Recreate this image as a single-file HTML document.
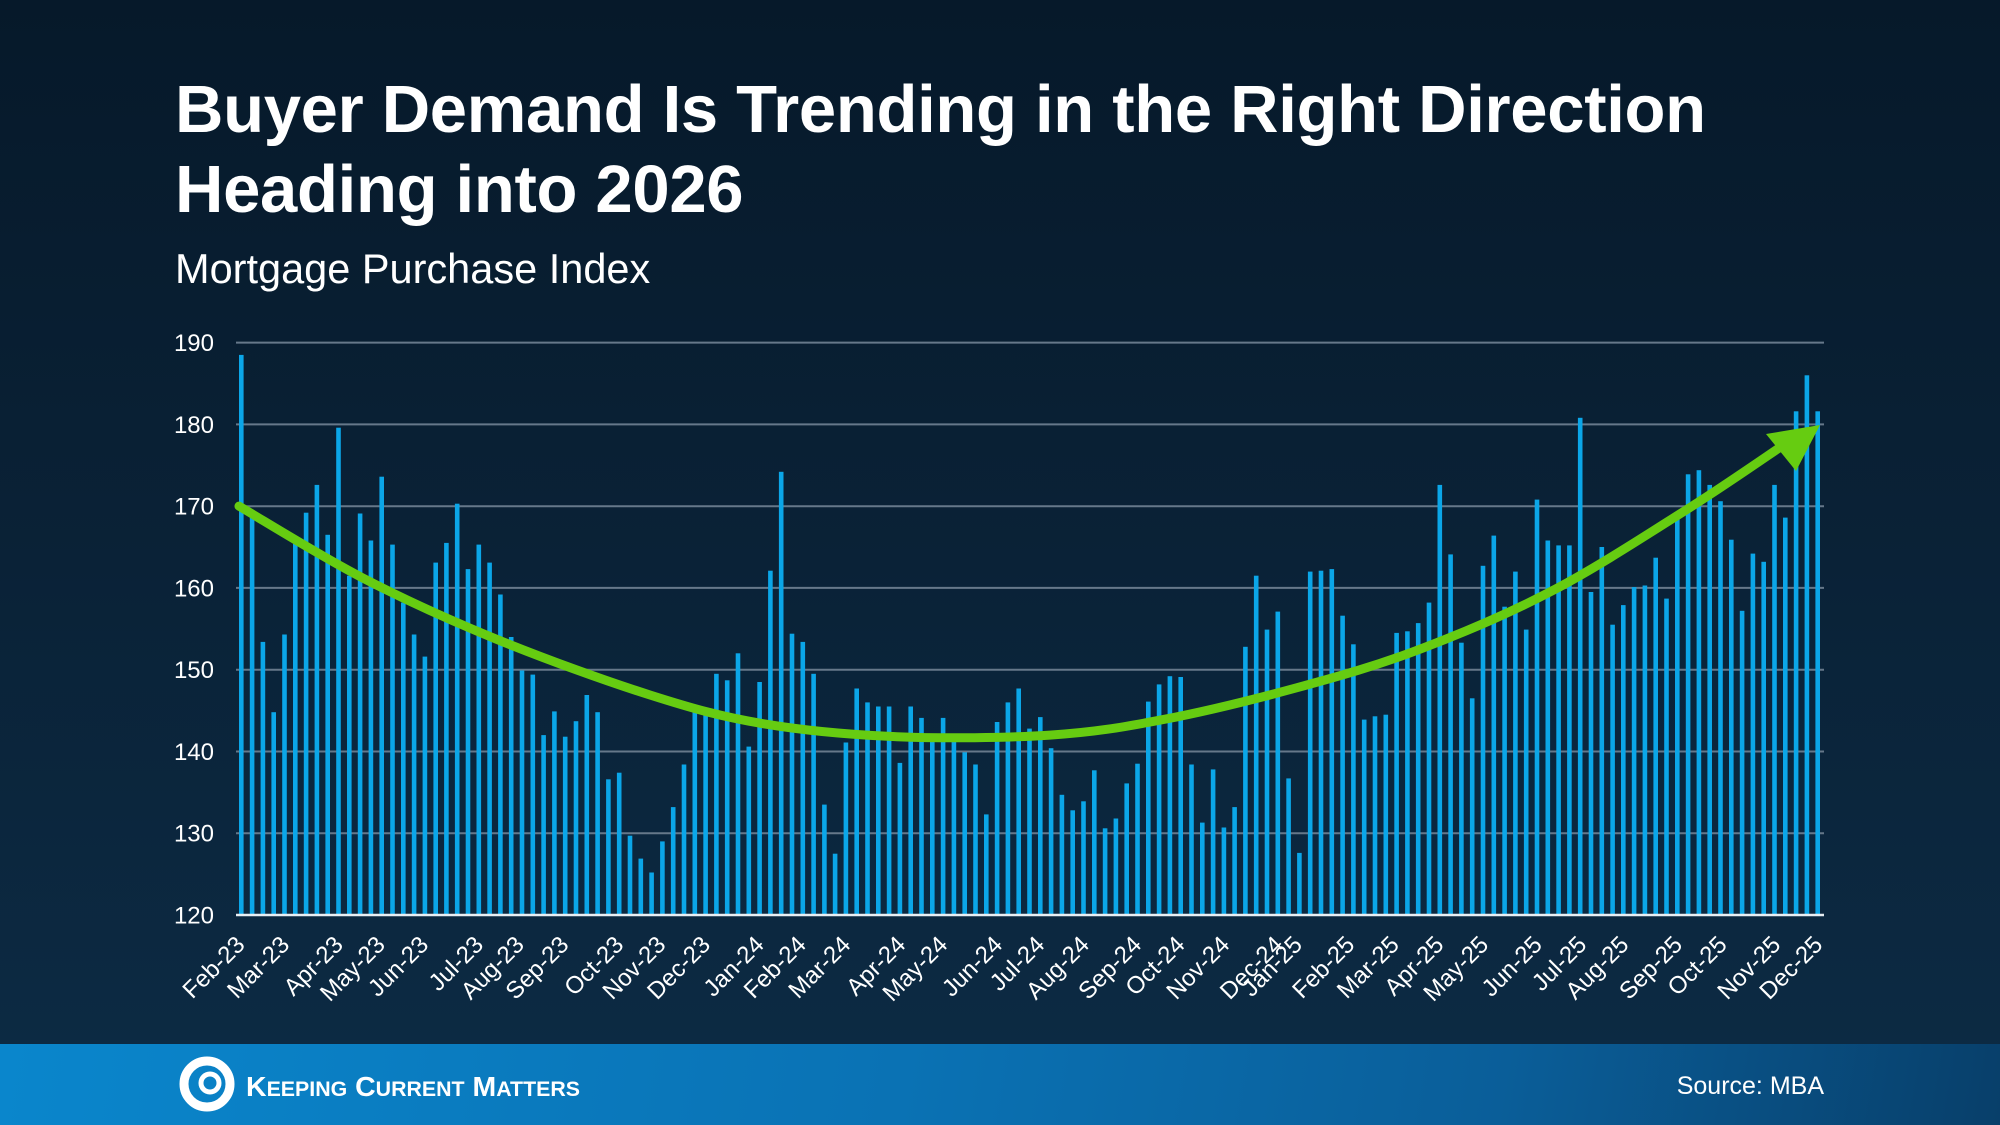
<!DOCTYPE html>
<html><head><meta charset="utf-8"><style>
html,body{margin:0;padding:0;}
body{width:2000px;height:1125px;overflow:hidden;background:linear-gradient(180deg,#06192a 0%,#0a2237 50%,#0c2a43 93%);font-family:"Liberation Sans",Arial,sans-serif;position:relative;}
.t{position:absolute;left:175px;color:#fff;font-weight:bold;font-size:67px;line-height:80px;top:70px;letter-spacing:-0.3px;}
.s{position:absolute;left:175px;top:245px;color:#fff;font-size:41.5px;}
.f{position:absolute;left:0;top:1044px;width:2000px;height:81px;background:linear-gradient(100deg,#0a86cc 0%,#0a72b4 45%,#0a5e99 75%,#083f6a 100%);}
svg{position:absolute;left:0;top:0;}
</style></head><body>
<div class="t">Buyer Demand Is Trending in the Right Direction<br>Heading into 2026</div>
<div class="s">Mortgage Purchase Index</div>
<div class="f"></div>
<svg id="c" width="2000" height="1125" xmlns="http://www.w3.org/2000/svg"></svg>
<script>
var v=[188.5,168.6,153.4,144.8,154.3,165.4,169.2,172.6,166.5,179.6,161.5,169.1,165.8,173.6,165.3,158.2,154.3,151.6,163.1,165.5,170.3,162.3,165.3,163.1,159.2,154.0,149.9,149.4,142.0,144.9,141.8,143.7,146.9,144.8,136.6,137.4,129.7,126.9,125.2,
129.0,133.2,138.4,144.9,144.5,149.5,148.7,152.0,140.6,148.5,162.1,174.2,154.4,153.4,149.5,133.5,127.5,141.1,147.7,146.0,145.5,145.5,138.6,145.5,144.1,141.3,144.1,141.3,139.9,138.4,132.3,143.6,146.0,147.7,142.8,144.2,140.4,
134.7,132.8,133.9,137.7,130.6,131.8,136.1,138.5,146.1,148.2,149.2,149.1,138.4,131.3,137.8,130.7,133.2,152.8,161.5,154.9,157.1,136.7,127.6,162.0,162.1,162.3,156.6,153.1,143.9,144.3,144.5,154.5,154.7,155.7,158.2,172.6,164.1,
153.3,146.5,162.7,166.4,157.7,162.0,154.9,170.8,165.8,165.2,165.2,180.8,159.5,165.0,155.5,157.9,160.1,160.3,163.7,158.7,169.1,173.9,174.4,172.6,170.6,165.9,157.2,164.2,163.2,172.6,168.6,181.6,186.0,181.6];
function Y(x){return 915-(x-120)*8.177;}
var s='';
for(var g=120;g<=190;g+=10){var y=Y(g).toFixed(1);
 if(g>120)s+='<line x1="236" x2="1824" y1="'+y+'" y2="'+y+'" stroke="#66788a" stroke-width="2"/>';
 s+='<text x="214" y="'+(+y+8.5)+'" fill="#fff" font-size="24" text-anchor="end">'+g+'</text>';}
var n=v.length,dx=(1817.7-241.3)/(n-1);
for(var i=0;i<n;i++){var x=241.3+i*dx,y=Y(v[i]);
 s+='<rect x="'+(x-2.3).toFixed(1)+'" y="'+y.toFixed(1)+'" width="4.6" height="'+(915-y).toFixed(1)+'" fill="#0ba6e8"/>';}
s+='<line x1="236" x2="1824" y1="915" y2="915" stroke="#e8eef3" stroke-width="2.5"/>';
var L=[["Feb-23",193],["Mar-23",228],["Apr-23",270],["May-23",303],["Jun-23",337],["Jul-23",380],["Aug-23",412],["Sep-23",447],["Oct-23",490],["Nov-23",523],["Dec-23",558],["Jan-24",600],["Feb-24",633],["Mar-24",668],["Apr-24",711],["May-24",744],["Jun-24",787],["Jul-24",820],["Aug-24",855],["Sep-24",896],["Oct-24",930],["Nov-24",965],["Dec-24",1007],["Jan-25",1022],["Feb-25",1063],["Mar-25",1098],["Apr-25",1133],["May-25",1168],["Jun-25",1210],["Jul-25",1245],["Aug-25",1278],["Sep-25",1320],["Oct-25",1355],["Nov-25",1397],["Dec-25",1430]];
for(var j=0;j<L.length;j++){var x=(L[j][1]*1.2755).toFixed(1);
 s+='<text transform="translate('+x+',946) rotate(-45)" fill="#fff" font-size="24" text-anchor="end">'+L[j][0]+'</text>';}
var P=[[239,170],[363,161.2],[497,153.7],[650,146.9],[763,143.4],[897,141.8],[1050,142.0],[1163,143.9],[1297,147.8],[1420,152.5],[1553,159.7],[1687,169.6],[1785,177.6]].map(function(p){return [p[0],Y(p[1])];});
var d='M'+P[0][0]+','+P[0][1];
for(var k=0;k<P.length-1;k++){var p0=P[Math.max(k-1,0)],p1=P[k],p2=P[k+1],p3=P[Math.min(k+2,P.length-1)];
 d+=' C'+(p1[0]+(p2[0]-p0[0])/6).toFixed(1)+','+(p1[1]+(p2[1]-p0[1])/6).toFixed(1)+' '+(p2[0]-(p3[0]-p1[0])/6).toFixed(1)+','+(p2[1]-(p3[1]-p1[1])/6).toFixed(1)+' '+p2[0]+','+p2[1].toFixed(1);}
s+='<path d="'+d+'" fill="none" stroke="#66cc11" stroke-width="9" stroke-linecap="round"/>';
s+='<polygon points="1766,434 1796,471 1820,425" fill="#66cc11"/>';
s+='<circle cx="207" cy="1084" r="23" fill="none" stroke="#fff" stroke-width="9"/><circle cx="210" cy="1083" r="9" fill="none" stroke="#fff" stroke-width="5"/>';
s+='<text x="246" y="1096" fill="#fff" font-size="28" font-weight="bold" textLength="334" lengthAdjust="spacingAndGlyphs">K<tspan font-size="21">EEPING</tspan> C<tspan font-size="21">URRENT</tspan> M<tspan font-size="21">ATTERS</tspan></text>';
s+='<text x="1824" y="1094" fill="#fff" font-size="25" text-anchor="end">Source: MBA</text>';
document.getElementById('c').innerHTML=s;
</script>
</body></html>
